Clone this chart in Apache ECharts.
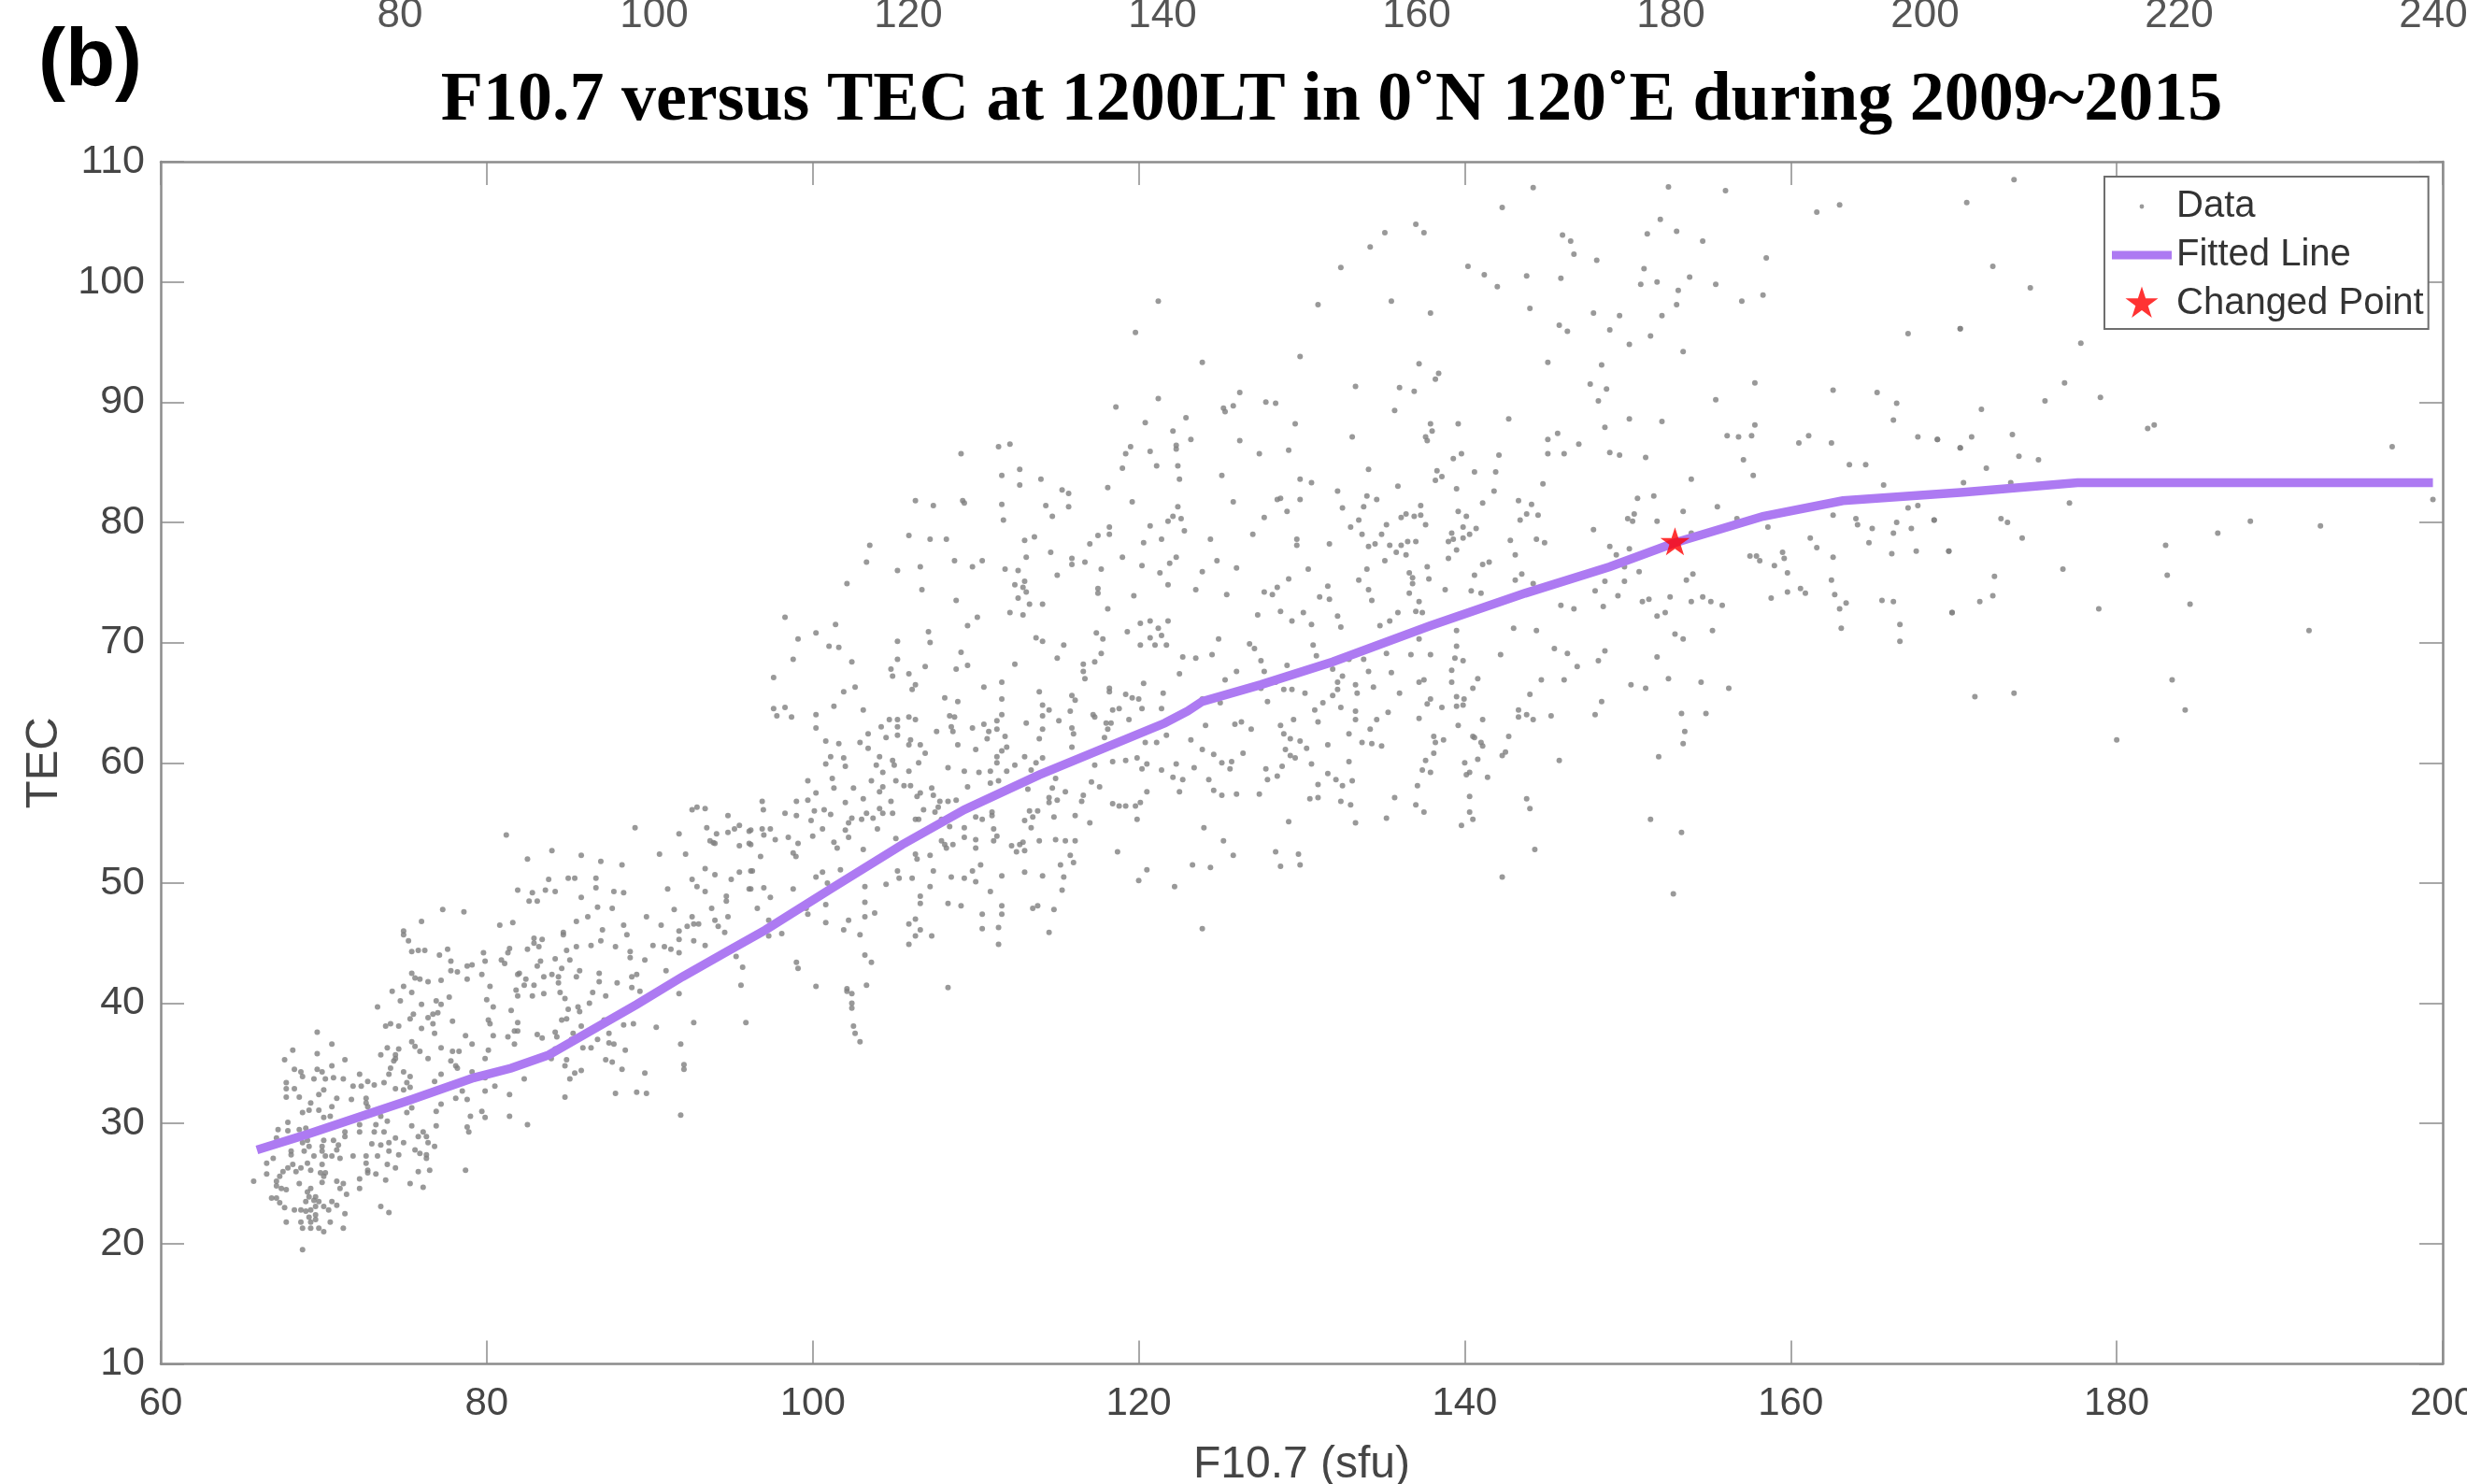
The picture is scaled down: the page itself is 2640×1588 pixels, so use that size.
<!DOCTYPE html>
<html>
<head>
<meta charset="utf-8">
<title>F10.7 versus TEC</title>
<style>
  html, body { margin: 0; padding: 0; background: #fff; overflow: hidden; }
  #chart { width: 2640px; height: 1588px; }
</style>
<script src="https://cdn.jsdelivr.net/npm/echarts@6/dist/echarts.min.js"></script>
</head>
<body>
<div id="chart"></div>
<script>
// [F10.7, TEC]
const lowPoints = [
[84.0,52.7],[82.5,52.0],[85.8,52.3],[87.0,51.8],[88.3,51.5],[90.6,52.4],[92.2,52.4],[93.9,53.35],[95.5,53.1],[96.2,53.2],
[83.8,50.3],[85.0,50.4],[85.4,50.4],[86.7,50.4],[86.7,49.6],[93.4,51.2],[94.0,50.7],[92.6,50.3],[95.0,50.3],[95.5,50.9],[96.2,51.0],
[92.9,49.7],[93.4,49.3],[91.1,49.5],[87.8,49.3],[88.4,49.2],[96.1,49.5],[81.9,49.4],[82.8,49.2],[83.6,49.4],[84.2,49.3],[82.6,48.5],[83.1,48.5],
[85.8,48.8],[94.7,48.9],[94.7,48.5],[86.8,48.0],[87.7,47.9],[93.8,47.9],[91.5,47.8],[89.8,47.2],[92.6,47.2],[77.3,47.8],[78.6,47.6],[76.0,46.8],
[86.2,47.2],[85.5,46.8],[88.4,46.5],[90.7,46.5],[92.3,46.4],[93.0,46.6],[94.0,46.9],[94.8,47.2],[94.2,46.4],[92.7,46.6],[80.8,46.5],[81.6,46.7],
[91.8,46.0],[87.1,46.1],[94.6,45.9],[74.9,46.0],[74.9,45.7],[84.7,45.9],[88.6,45.7],[84.7,45.7],[75.2,45.2],[82.9,45.4],[83.4,45.3],[91.8,45.3],
[92.7,45.2],[87.0,45.2],[93.4,44.8],[90.2,44.8],[85.5,44.7],[86.4,44.8],[82.9,45.0],[83.2,44.7],[87.9,44.7],[75.4,44.3],[75.8,44.4],[76.2,44.4],
[77.6,44.5],[77.1,44.0],[79.8,44.2],[81.4,44.55],[81.3,44.2],[82.5,44.5],[84.9,44.4],[88.8,44.3],[90.9,44.7],[91.3,44.5],[91.8,44.2],[79.9,43.5],
[77.8,43.5],[95.3,43.9],[80.9,43.6],[81.1,43.3],[84.2,43.7],[83.3,43.5],[83.1,43.1],[85.1,43.6],[88.8,43.8],[89.7,43.6],[79.1,43.2],[78.8,43.1],
[77.8,42.7],[78.2,42.6],[95.7,43.0],[86.9,42.5],[82.0,42.5],[84.6,42.9],[91.0,42.7],[85.7,42.7],[83.5,42.2],[84.0,42.4],[84.4,42.2],[85.5,42.2],
[79.7,42.4],[78.8,42.0],[75.4,42.5],[75.6,42.1],[75.9,42.0],[76.4,41.8],[86.9,41.8],[88.9,42.2],[89.2,42.4],[81.9,42.4],[82.4,42.0],[88.0,41.7],
[95.6,41.5],[84.4,41.7],[77.2,41.9],[80.2,41.4],[74.9,41.4],[74.2,41.0],[75.4,40.9],[82.3,41.5],[82.9,41.5],[83.5,40.8],[88.9,41.3],[89.4,41.0],
[74.7,40.2],[73.3,39.7],[81.8,41.1],[81.9,40.6],[82.8,40.6],[84.5,40.9],[84.8,40.4],[86.5,40.9],[87.3,40.6],[91.8,40.8],[86.3,40.0],[85.6,39.7],
[85.7,39.3],[85.0,39.5],[76.9,40.2],[77.2,39.9],[77.7,40.5],[76.0,39.9],[80.0,40.3],[80.4,39.7],[81.5,39.4],[75.5,39.1],[75.3,38.7],[76.7,39.1],
[77.0,39.2],[76.4,38.8],[84.9,38.7],[84.6,38.6],[87.2,38.6],[88.4,38.2],[89.0,38.3],[92.7,38.4],[95.9,38.4],[80.1,38.6],[80.2,38.3],[81.9,38.4],
[74.1,38.3],[73.8,38.1],[74.6,38.1],[77.9,38.5],[76.7,38.3],[81.7,37.7],[81.9,37.7],[90.4,38.0],[85.8,38.1],[69.6,37.6],[76.0,37.9],[78.7,37.3],
[76.8,37.5],[80.4,37.3],[81.3,37.2],[83.1,37.4],[83.4,37.1],[84.2,37.6],[84.3,37.2],[85.3,37.5],[87.5,37.5],[86.8,37.0],[85.2,37.0],[70.5,36.6],
[79.1,36.6],[81.7,36.6],[91.9,36.6],[73.5,35.7],[73.9,36.3],[74.6,36.2],[75.4,36.8],[75.6,36.4],[75.9,36.0],[77.2,36.3],[77.9,36.0],[78.3,36.0],
[80.1,36.1],[84.2,36.2],[85.9,36.3],[86.4,36.3],[87.5,36.7],[87.8,36.6],[88.5,36.1],[68.1,36.1],[69.6,35.8],[74.4,35.7],[74.3,35.2],[74.4,35.4],
[67.6,35.3],[76.4,35.4],[79.9,35.4],[83.96,35.4],[71.3,35.3],[84.9,35.3],[87.3,35.3],[74.1,34.6],[70.5,34.8],[77.8,35.2],[78.1,34.8],[78.2,34.6],
[84.8,34.8],[92.1,34.9],[92.1,34.5],[87.7,35.1],[68.2,34.5],[68.6,34.3],[69.6,34.5],[69.9,34.3],[74.0,34.1],[74.9,34.3],[75.3,33.9],[81.9,34.8],
[88.3,34.5],[85.8,34.4],[85.4,34.2],[89.7,34.2],[72.2,34.1],[68.7,33.9],[69.4,33.7],[70.1,33.7],[70.6,33.8],[71.2,33.7],[79.1,34.3],[77.2,34.1],
[79.9,33.8],[85.1,33.7],[67.7,33.4],[72.7,33.5],[71.8,33.1],[72.3,33.1],[73.1,33.2],[73.7,33.4],[75.1,33.4],[76.8,33.5],[82.3,33.7],[80.5,33.1],
[67.7,32.9],[68.2,32.9],[74.4,32.9],[74.9,32.8],[75.3,33.0],[78.5,32.7],[70.0,32.8],[69.7,32.4],[79.9,32.7],[81.4,32.4],[84.8,32.2],[87.9,32.5],
[89.2,32.6],[89.8,32.5],[67.7,32.2],[68.5,32.2],[70.8,32.1],[71.7,32.0],[72.6,32.1],[72.6,31.7],[78.1,32.1],[78.8,32.0],[77.2,31.6],[69.2,31.7],
[70.5,31.4],[72.7,31.4],[74.9,31.8],[75.4,31.3],[68.7,30.9],[69.1,31.1],[69.7,31.1],[70.4,30.6],[76.9,31.0],[75.1,30.9],[79.0,30.6],[79.7,31.0],
[79.9,30.5],[81.4,30.6],[73.5,30.6],[91.9,30.7],[70.0,30.5],[67.8,30.1],[75.4,29.8],[76.9,29.8],[73.2,29.9],[73.9,30.2],[72.2,29.9],[82.5,29.9],
[78.8,29.7],[67.2,29.5],[67.8,29.4],[68.5,29.5],[68.9,29.6],[71.3,29.3],[72.2,29.3],[73.1,29.3],[73.7,29.3],[76.1,29.3],[78.9,29.3],[67.1,28.8],
[69.0,28.6],[70.0,28.6],[70.6,28.6],[71.3,28.9],[75.8,28.9],[76.3,28.9],[74.4,28.8],[72.95,28.3],[74.0,28.4],[74.9,28.4],[76.4,28.4],[76.8,28.1],
[68.7,28.4],[69.1,28.1],[69.9,28.1],[70.9,28.2],[73.5,28.2],[68.0,27.7],[68.8,27.7],[70.8,27.8],[75.6,27.8],[74.0,27.7],[69.9,27.7],[68.0,27.4],
[74.6,27.4],[75.9,27.5],[76.3,27.4],[69.4,27.3],[70.1,27.3],[70.5,27.3],[71.0,27.1],[71.8,27.3],[72.6,27.3],[73.3,27.3],[76.3,27.1],[66.9,27.1],
[66.5,26.7],[68.1,26.6],[69.0,26.7],[69.9,26.6],[72.6,26.7],[73.9,26.6],[67.8,26.3],[68.6,26.3],[74.4,26.3],[72.7,26.1],[69.2,26.1],[67.5,26.0],
[68.3,26.0],[75.8,26.0],[76.5,26.1],[78.7,26.1],[66.5,25.8],[69.8,25.9],[70.1,25.9],[72.7,25.9],[73.2,25.8],[67.3,25.6],[70.0,25.6],[73.8,25.3],
[72.2,25.4],[65.7,25.2],[67.1,25.2],[68.5,25.0],[69.9,25.1],[70.8,25.2],[71.2,25.0],[75.3,25.0],[67.1,24.8],[67.4,24.6],[69.2,24.6],[71.0,24.6],
[72.2,24.6],[76.1,24.7],[67.7,24.5],[71.4,24.1],[69.0,24.3],[66.8,23.8],[67.1,23.8],[69.1,23.9],[69.5,23.9],[68.9,23.5],[69.4,23.6],[69.7,23.5],
[70.5,23.5],[67.3,23.4],[67.6,23.0],[69.5,23.1],[70.0,23.1],[70.8,23.2],[73.5,23.1],[69.2,22.8],[70.3,22.8],[68.2,22.8],[68.6,22.8],[68.9,22.7],
[71.3,22.5],[74.0,22.6],[69.5,22.4],[69.1,22.2],[68.6,21.8],[67.7,21.8],[69.5,22.0],[69.2,21.8],[70.4,21.8],[68.7,21.3],[69.2,21.3],[69.7,21.3],
[70.0,21.0],[71.2,21.3],[68.7,19.5],
[81.2,54.0],[89.1,54.6],[91.8,54.1],[92.6,56.1],[92.9,56.3],[93.4,56.2],[94.8,55.6],[93.5,54.6],[94.1,54.1],[94.8,54.2],[95.2,54.5],[95.5,54.8],
[96.2,54.4],[93.7,53.5],[94.0,53.3]
];

const midPoints = [
[121.2,98.4],[119.8,95.8],[123.9,93.3],[129.9,93.8],[121.2,90.3],[118.6,89.6],[126.2,90.8],[127.8,90.0],[128.4,89.9],[125.2,89.5],[125.3,89.2],
[125.8,89.7],[122.9,88.7],[120.4,88.3],[129.6,88.2],[122.1,87.6],[123.2,86.9],[126.2,86.8],[119.5,86.3],[122.3,86.4],[122.3,86.1],[120.7,85.9],
[119.2,85.7],[127.4,85.7],[129.2,86.0],[109.1,85.7],[111.4,86.3],[112.1,86.5],[119.0,84.5],[121.1,84.7],[122.4,84.7],[112.7,84.4],[111.6,83.9],
[114.0,83.6],[122.5,83.6],[125.1,83.9],[129.9,83.6],[112.7,83.1],[118.1,82.9],[115.3,82.7],[115.7,82.4],[106.3,81.8],[107.4,81.4],[109.2,81.8],
[109.3,81.6],[111.6,81.5],[114.3,81.4],[115.7,81.3],[119.6,81.7],[125.8,81.7],[122.4,81.3],[128.5,81.9],[128.7,82.0],[129.9,81.9],[129.1,80.9],
[127.7,80.4],[111.7,80.2],[114.7,80.5],[118.2,79.6],[122.1,80.5],[122.6,80.3],[121.8,80.1],[120.7,79.7],[122.8,79.3],[117.5,78.9],[118.2,79.0],
[127.0,79.0],[105.9,78.9],[107.2,78.6],[108.2,78.6],[113.6,78.8],[113.0,78.5],[121.4,78.6],[124.4,78.6],[129.7,78.6],
[129.7,78.1],[103.5,78.1],[120.3,78.3],[117.0,78.2],[114.6,77.5],[122.3,77.1],[103.3,76.7],[121.9,76.6],[115.9,77.0],[115.9,76.5],[116.7,76.7],
[113.1,77.1],[119.0,77.1],[108.7,76.8],[110.4,76.8],[109.8,76.3],[120.2,76.4],[121.3,75.8],[105.2,76.0],[106.6,76.3],[111.8,76.1],[112.6,76.0],
[117.7,76.1],[123.9,75.9],[124.8,76.8],[126.0,76.2],[115.0,75.6],[121.8,74.8],[113.0,75.1],[112.4,74.8],[112.9,74.6],[113.1,74.2],[117.5,74.5],
[117.5,74.1],[102.1,74.9],[106.7,74.4],[123.5,74.4],[125.4,74.0],[127.7,74.2],[128.2,74.0],[128.5,74.6],[129.2,75.3],[119.7,73.9],[112.6,73.7],
[108.8,73.5],[114.1,73.2],[113.3,73.2],[118.1,72.8],[112.1,72.5],[112.9,72.3],[128.7,72.6],[130.1,72.5],[127.3,72.3],[129.4,71.8],[98.3,72.1],
[110.1,72.1],[120.7,71.8],[121.8,71.8],[120.1,71.6],[101.4,71.5],[109.5,71.4],[121.2,71.2],[100.2,70.8],[107.1,70.9],[117.4,70.8],[119.3,70.9],
[121.4,70.6],[99.1,70.3],[113.7,70.4],[114.1,70.1],[117.8,70.3],[120.7,70.4],[124.9,70.3],[105.2,70.1],[107.2,70.0],[101.0,69.7],[101.6,69.6],
[120.1,69.8],[121.0,69.8],[121.7,69.8],[126.8,69.9],[115.4,69.8],[109.1,69.2],[117.7,69.1],[127.1,69.5],[124.5,69.0],[98.8,68.6],[105.2,68.6],
[115.0,68.7],[122.7,68.8],[123.5,68.7],[127.5,68.5],[102.4,68.4],[109.5,68.1],[112.4,68.2],[116.6,68.2],[117.3,68.4],[106.9,68.0],[108.8,67.8],
[104.8,67.8],[126.0,67.6],[116.6,67.6],[127.7,67.6],[129.1,68.1],[105.9,67.4],[122.5,67.4],[97.6,67.1],[104.9,67.2],[116.7,67.0],[125.3,66.9],
[128.4,66.7],[106.3,66.5],[120.3,66.6],[111.6,66.7],[110.5,66.3],[102.6,66.3],[127.5,66.2],[106.1,66.1],[101.9,65.9],[118.2,66.2],[118.2,65.9],
[113.9,65.9],[121.5,65.8],[128.9,66.1],[129.4,66.1],[130.2,65.8],[115.9,65.6],[119.2,65.7],[119.6,65.4],[120.0,65.3],[116.1,65.2],[108.1,65.4],
[111.6,65.3],[108.9,65.1],[123.9,65.3],[125.0,65.0],[127.9,65.1],[131.9,65.6],[133.4,65.8],[101.3,64.7],[97.6,64.5],[98.3,64.6],[114.1,64.8],
[114.5,64.4],[103.1,64.4],[100.2,64.0],[121.4,64.5],[120.2,64.5],[118.4,64.4],[118.8,64.5],[115.8,64.3],[130.8,64.4],[131.3,65.0],[132.4,64.6],
[133.3,64.3],[97.8,63.9],[98.7,63.8],[111.6,64.0],[117.2,64.0],[117.3,63.8],[114.1,63.9],[108.4,63.9],[108.7,63.8],[104.7,63.6],[105.2,63.6],
[105.9,63.8],[106.3,63.6],[111.3,63.5],[115.1,63.5],[119.4,63.6],[129.5,63.6],[133.3,63.6],[131.0,63.4],[134.6,63.6],[100.2,62.9],[113.1,63.3],
[118.0,63.3],[118.3,63.3],[110.5,63.2],[126.3,63.4],[125.9,63.2],[104.2,63.0],[105.2,63.0],[108.5,63.0],[109.8,62.9],[114.1,62.8],[111.3,62.8],
[115.9,62.9],[124.1,63.1],[126.9,62.8],[128.7,63.1],[134.2,62.8],[118.1,62.8],[110.8,62.6],[108.6,62.6],[107.6,62.6],[103.4,62.4],[104.5,62.1],
[105.2,62.3],[116.0,62.4],[117.9,62.1],[121.7,62.3],[128.9,62.4],[129.3,62.0],[132.9,62.4],[111.8,62.2],[110.7,62.0],[113.9,62.0],[106.0,61.9],
[123.2,61.9],[100.8,61.8],[101.6,61.6],[102.9,61.7],[106.6,61.5],[108.9,61.5],[129.9,61.8],[133.7,61.7],[134.3,61.6],[134.9,61.4],[105.9,61.5],
[103.4,61.2],[110.0,61.1],[111.9,61.3],[115.9,61.3],[123.9,61.1],[120.4,61.7],[121.1,61.7],[129.0,61.1],[130.3,61.2],[131.6,61.5],[106.9,60.8],
[111.6,61.0],[124.6,60.7],[126.4,60.8],[129.3,60.6],[101.1,60.5],[101.9,60.4],[104.1,60.5],[111.3,60.5],[113.0,60.5],[114.1,60.4],[104.9,60.2],
[129.6,60.4],[106.5,60.0],[111.3,60.0],[100.8,59.9],[103.9,59.8],[105.0,59.8],[102.0,59.7],[112.4,59.8],[113.7,60.0],[118.4,60.1],[119.2,60.2],
[119.9,60.4],[125.1,60.0],[125.7,60.1],[132.9,60.1],[108.3,59.6],[117.3,59.8],[120.5,59.9],[120.2,59.5],[122.3,59.9],[123.4,59.6],[125.6,59.5],
[127.8,59.5],[128.8,59.7],[130.6,59.9],[105.9,59.3],[109.3,59.3],[110.2,59.2],[110.9,59.3],[111.9,59.3],[113.4,59.4],[104.3,59.2],[121.4,59.4],
[131.6,59.1],[128.5,58.9],[127.9,58.6],[114.9,58.7],[122.1,58.8],[122.7,58.6],[124.3,58.6],[132.1,58.6],[133.1,58.5],[99.7,58.5],[101.2,58.7],
[103.6,58.5],[105.1,58.5],[105.6,58.1],[106.0,58.1],[111.4,58.5],[110.9,58.3],[117.1,58.4],[101.3,57.9],[102.5,57.9],[104.3,58.0],[109.5,58.0],
[113.2,57.8],[117.6,58.0],[114.7,57.9],[115.5,57.6],[131.0,58.2],[132.5,58.1],[100.2,57.5],[104.1,57.6],[107.3,57.9],[107.4,57.3],[106.6,57.5],
[106.4,57.2],[120.5,57.6],[122.5,57.6],[124.6,57.7],[125.1,57.3],[126.0,57.4],[127.4,57.4],[103.1,57.0],[114.5,57.1],[99.7,56.9],[116.6,57.3],
[130.5,57.0],[131.0,57.1],[132.4,56.8],[96.9,56.8],[99.0,56.8],[102.0,56.7],[104.8,56.8],[107.8,56.8],[108.3,56.8],[108.8,56.9],[115.0,56.9],
[114.5,56.7],[116.5,56.8],[118.4,56.6],[118.8,56.4],[119.2,56.4],[120.1,56.7],[119.8,56.4],[133.0,56.5],[96.97,56.1],[104.1,56.2],[100.1,56.0],
[100.7,56.1],[107.7,56.3],[107.5,55.9],[109.5,56.3],[111.0,55.9],[113.3,56.0],[113.8,56.0],[98.3,55.8],[99.0,55.6],[101.1,55.7],[103.3,55.8],
[104.3,55.8],[104.9,55.8],[106.8,56.1],[113.5,55.5],[114.8,55.5],[116.1,55.6],[110.0,55.5],[102.4,55.4],[103.0,55.3],[103.7,55.4],[102.2,55.0],
[99.9,55.2],[106.3,55.3],[106.5,55.3],[107.9,55.3],[110.4,55.3],[113.0,55.2],[111.0,55.6],[119.9,55.3],[129.2,55.1],[117.0,55.0],[133.3,55.0],
[96.9,54.5],[96.1,54.3],[97.4,54.5],[100.6,54.5],[102.0,54.4],[103.97,54.5],[108.4,54.7],[109.3,54.6],[111.1,54.5],[113.4,54.6],[124.0,54.6],
[97.0,54.0],[100.0,53.9],[98.5,53.8],[102.2,53.8],[105.1,53.7],[109.3,53.8],[110.0,53.6],[111.3,53.9],[97.7,53.6],[113.9,53.5],[114.9,53.6],
[115.5,53.5],[116.1,53.5],[96.1,53.3],[99.1,53.3],[101.3,53.4],[107.9,53.5],[108.1,53.2],[111.1,53.5],[112.9,53.4],[125.2,53.5],[108.6,53.2],
[112.2,53.1],[112.7,53.2],[101.5,52.9],[103.1,52.8],[110.0,52.9],[108.2,52.9],[112.5,52.6],[113.0,52.7],[118.7,52.6],[128.4,52.6],[98.8,52.5],
[98.97,52.2],[96.8,52.2],[106.3,52.4],[106.4,52.0],[107.2,52.3],[115.8,52.3],[125.8,52.3],[129.8,52.4],[116.0,51.7],[110.3,51.5],[115.2,51.5],
[128.7,51.4],[129.9,51.5],[123.3,51.5],[124.4,51.3],[120.5,51.1],[100.6,50.9],[100.2,50.5],[101.7,51.1],[96.3,51.0],[105.2,51.0],[107.4,51.0],
[109.8,51.0],[113.0,50.9],[114.1,50.6],[115.4,50.5],[111.6,50.6],[105.3,50.4],[106.1,50.4],[108.5,50.5],[109.3,50.4],[110.0,50.1],[100.9,50.0],
[120.0,50.2],[103.2,49.7],[104.5,49.9],[107.2,49.7],[122.2,49.7],[96.2,49.5],[97.0,49.6],[98.8,49.5],[115.3,49.4],[110.9,49.3],[97.4,48.8],
[106.6,48.9],[103.2,48.4],[100.8,48.2],[106.6,48.3],[108.3,48.3],[111.6,48.1],[109.1,48.1],[96.6,47.9],[99.6,47.9],[113.8,48.1],[113.5,47.9],
[114.8,47.8],[103.8,47.5],[99.7,47.4],[110.4,47.4],[111.6,47.4],[102.2,46.9],[103.2,47.2],[106.3,47.0],[105.9,46.6],[97.3,46.9],[100.8,46.7],
[101.9,46.1],[111.4,46.3],[110.4,46.2],[123.9,46.2],[106.6,46.1],[106.3,45.6],[107.3,45.6],[102.9,45.7],[97.3,45.6],[98.1,45.8],[105.9,44.9],
[111.4,44.9],[114.5,45.9],[103.2,44.0],[103.6,43.4],[99.0,43.4],[99.1,42.9],[103.3,41.5],[100.2,41.4],[102.1,41.2],[108.3,41.3],
[102.1,41.0],[102.4,40.8],[102.4,40.0],[102.4,39.6],[102.5,38.1],[102.6,37.5],[102.9,36.8]
];

const highPoints = [
[144.2,107.85],[152.5,107.9],[156.0,107.6],[142.3,106.2],[163.0,106.4],[161.6,105.8],[152.0,105.2],[137.0,104.8],[135.1,104.1],[137.5,104.1],
[146.0,103.9],[146.5,103.4],[151.2,104.0],[153.0,104.2],[154.6,103.4],[134.2,102.9],[146.7,102.3],[148.1,101.8],[158.5,102.0],[132.4,101.2],
[140.2,101.3],[151.0,101.1],[141.2,100.6],[143.8,100.5],[145.9,100.3],[151.8,100.0],[150.8,99.8],[153.8,100.4],[155.4,99.8],[142.0,99.6],[153.1,99.3],
[135.5,98.4],[157.0,98.4],[158.3,98.9],[153.0,98.1],[131.0,98.1],[137.9,97.4],[144.0,97.8],[147.9,97.4],[149.5,97.2],[152.1,97.2],[145.8,96.4],
[146.3,95.9],[148.9,96.0],[151.4,95.5],[150.1,94.8],[153.4,94.2],[167.2,95.7],[170.4,96.1],[137.2,93.2],[145.1,93.3],[148.4,93.1],[138.4,92.4],
[138.2,91.9],[133.3,91.3],[136.0,91.2],[136.9,90.9],[147.7,91.5],[148.7,91.1],[148.2,90.1],[155.4,90.2],[157.8,91.6],[162.6,91.0],[165.3,90.8],
[166.5,89.9],[166.3,88.5],[135.7,89.3],[142.7,88.6],[150.1,88.6],[152.1,88.4],[137.9,88.2],[139.6,88.2],[157.8,88.1],[138.0,87.6],[148.6,87.9],
[137.6,87.1],[133.1,87.1],[137.7,86.8],[145.7,87.4],[145.1,86.9],[147.0,86.5],[156.1,87.2],[156.8,87.1],[157.6,87.2],[161.1,87.2],[160.5,86.6],
[162.5,86.6],[167.8,87.1],[169.0,86.9],[170.4,86.2],[139.8,85.7],[139.3,85.3],[142.1,85.6],[145.1,85.7],[146.1,85.7],[148.9,85.8],[149.5,85.6],
[151.1,85.4],[157.1,85.2],[163.6,84.8],[164.6,84.8],[134.1,84.4],[140.6,84.2],[141.9,84.2],[138.3,84.3],[138.6,83.8],[138.2,83.5],[157.7,83.9],
[153.9,83.6],[130.6,83.3],[135.9,83.0],[144.8,83.2],[165.7,83.1],[139.5,82.8],[132.2,82.6],[141.8,82.6],[134.0,82.2],[134.6,81.9],[151.6,82.2],
[150.6,82.0],[141.1,81.6],[143.3,81.8],[144.1,81.5],[137.3,81.4],[133.8,81.3],[132.5,81.2],[155.5,81.3],[153.4,80.9],[167.2,81.2],[139.6,80.9],
[136.4,80.7],[136.1,80.4],[136.9,80.5],[137.3,80.6],[140.1,80.5],[143.8,80.7],[144.5,80.6],[143.4,80.2],[150.4,80.7],[150.0,80.3],[150.3,80.1],
[151.8,80.1],[133.5,80.2],[156.7,80.3],[162.6,80.6],[164.0,80.3],[164.1,79.8],[166.5,80.0],[168.8,80.2],[135.2,79.8],[137.6,79.8],[133.0,79.6],
[139.9,79.6],[158.6,79.6],[165.0,79.5],[167.4,79.5],[139.2,79.1],[140.3,79.0],[140.7,79.5],[147.9,79.4],[133.7,79.0],[134.9,79.0],[166.3,79.1],
[153.9,79.1],[139.9,78.7],[139.3,78.6],[139.0,78.4],[142.8,78.5],[144.4,78.6],[144.9,78.3],[161.2,78.7],[131.7,78.2],[135.4,78.1],[136.1,78.1],
[136.5,78.4],[137.0,78.4],[134.5,78.2],[134.1,78.0],[164.8,78.3],[148.9,78.0],[150.1,77.8],[161.6,77.9],[139.5,77.7],[135.8,77.5],[166.2,77.4],
[167.7,77.6],[169.7,77.6],[149.3,77.3],[136.4,77.3],[143.1,77.3],[157.5,77.2],[157.9,77.2],[158.1,76.8],[159.5,77.5],[159.6,77.0],[162.6,77.1],
[139.0,77.0],[135.1,76.8],[141.5,76.7],[141.1,76.5],[159.0,76.4],[137.7,76.3],[134.0,76.1],[130.4,76.1],[149.8,76.3],[150.7,75.9],[154.0,75.7],
[136.6,75.8],[143.5,75.7],[159.8,75.8],[140.6,75.6],[133.5,75.2],[136.8,75.4],[136.8,74.9],[137.8,75.3],[143.1,75.2],[144.2,74.9],[148.6,75.1],
[149.8,75.1],[153.6,75.2],[162.5,75.2],[131.6,74.7],[134.1,74.4],[138.8,74.4],[140.4,74.3],[141.0,74.1],[148.0,74.3],[160.6,74.5],[159.8,74.2],
[160.9,74.1],[136.6,74.1],[162.7,74.0],[131.1,73.8],[131.7,73.6],[134.3,73.5],[137.2,73.4],[149.4,73.9],[152.6,73.8],[154.6,73.8],[153.9,73.4],
[155.1,73.4],[155.8,73.1],[158.8,73.7],[151.3,73.6],[150.9,73.4],[163.4,73.3],[165.6,73.5],[166.3,73.4],[145.9,73.1],[146.7,72.8],[148.5,73.0],
[163.0,72.8],[135.9,72.5],[137.0,72.6],[137.4,72.5],[151.8,72.2],[152.3,72.5],[132.2,72.2],[169.9,72.5],[135.4,71.8],[134.8,71.4],[166.7,71.5],
[130.6,71.5],[132.4,71.3],[143.0,71.2],[144.4,71.0],[139.5,71.0],[155.2,71.0],[163.1,71.2],[152.9,70.7],[153.4,70.3],[137.2,70.3],[166.7,70.1],
[139.5,69.7],[130.7,69.8],[145.5,69.5],[148.6,69.3],[135.2,69.1],[136.7,69.0],[137.9,69.0],[142.2,69.0],[146.3,69.1],[151.8,68.8],[139.4,68.7],
[139.9,68.5],[148.2,68.5],[130.9,68.9],[132.9,68.6],[133.8,68.6],[146.9,68.0],[139.2,67.7],[131.9,67.8],[134.1,67.6],[135.5,67.5],[152.5,67.0],
[140.8,67.0],[144.7,66.9],[146.1,66.9],[132.5,67.2],[137.5,66.9],[137.2,66.7],[139.2,66.7],[132.2,66.7],[154.5,66.7],[133.3,66.5],[134.4,66.3],
[150.2,66.5],[140.5,66.2],[151.1,66.2],[156.2,66.2],[132.2,66.1],
[136.0,65.8],[144.0,65.7],[139.5,65.5],[139.96,65.3],[137.9,65.3],[137.7,64.9],[138.6,64.6],[139.5,64.7],[139.9,64.8],[148.4,65.1],[135.3,64.2],
[143.3,64.4],[143.8,64.0],[143.3,63.8],[144.2,63.6],[145.3,63.9],[148.0,64.0],[153.3,64.1],[154.8,64.1],[137.2,63.7],[141.1,63.6],[139.6,63.1],
[153.5,62.6],[138.1,62.2],[140.5,62.2],[140.6,62.1],[142.7,62.2],[138.7,61.9],[138.2,61.7],[141.0,61.7],[141.1,61.4],[153.4,61.6],[138.1,60.8],
[142.5,60.9],[142.3,60.6],[151.9,60.5],[137.6,60.2],[140.8,60.3],[140.0,60.0],[145.8,60.2],[137.4,59.4],[137.9,59.2],[140.3,59.2],[140.1,59.0],
[141.4,58.8],[137.1,58.1],[135.7,57.1],[140.3,57.2],[143.8,57.0],[144.0,56.2],[137.0,56.5],[137.5,55.9],[140.3,55.9],[140.5,55.3],[135.2,55.4],
[139.8,54.8],[151.4,55.3],[153.3,54.2],[144.3,52.8],[142.3,50.5],[152.8,49.1],
[170.4,96.1],[177.8,94.9],[176.8,91.6],[179.0,90.4],[175.6,90.1],[171.7,89.4],[181.9,87.8],[182.3,88.1],[196.9,86.3],[169.0,86.9],[171.1,87.1],
[170.4,86.2],[173.6,87.3],[174.0,85.5],[175.2,85.2],[172.0,84.5],[170.6,83.3],[173.5,83.3],[177.1,81.6],[167.8,81.4],[168.8,80.2],[172.9,80.3],
[173.3,80.0],[174.2,78.7],[169.7,77.6],[183.0,78.1],[186.2,79.1],[188.2,80.1],[192.5,79.7],[199.4,81.9],[176.7,76.1],[183.1,75.6],[172.5,75.5],
[172.4,73.9],[171.6,73.4],[169.9,72.5],[178.9,72.8],[184.5,73.2],[191.8,71.0],[183.4,66.9],[184.2,64.4],[173.7,65.8],[171.3,65.5],[180.0,61.9],
[173.7,108.5],[170.8,106.6],[172.4,101.3],[174.7,99.5]
];

// fitted line knots
const fitF107 = [65.9,69.0,72.3,75.4,79.2,81.5,83.8,85.6,89.2,92.0,94.6,97.1,101.1,105.5,109.3,113.9,121.6,123.0,123.9,127.5,131.9,137.9,143.7,148.9,152.9,158.3,163.2,170.6,177.6,199.4];
const fitTEC  = [27.8,29.1,30.6,32.0,33.8,34.6,35.7,37.1,39.9,42.2,44.2,46.1,49.5,53.2,56.1,59.0,63.3,64.3,65.1,66.5,68.4,71.4,74.1,76.3,78.3,80.5,81.8,82.5,83.3,83.3];

const changedPoint = [152.9, 78.3];

// neighbouring panel's axis, cut off at the top of the picture
const topPanelTicks = [80, 100, 120, 140, 160, 180, 200, 220, 240];

const axisGrey = '#8c8c8c';
const labelGrey = '#454545';
const sansFont = '"Liberation Sans", Arial, sans-serif';

// small shapes padded by corner stubs so the legend keeps their size
const starPath = 'path://M0 0h.01M100 100h.01M50 4L60.3 35.8L93.7 35.8L66.7 55.4L77 87.2L50 67.6L23 87.2L33.3 55.4L6.3 35.8L39.7 35.8Z';
const dotPath = 'path://M0 0h.01M100 100h.01M44 50a6 6 0 1 0 12 0a6 6 0 1 0 -12 0Z';
const barPath = 'path://M0 0L100 0L100 14L0 14Z';

const chart = echarts.init(document.getElementById('chart'), null, { renderer: 'canvas' });

const frameTick = { show: true, inside: true, length: 25, lineStyle: { color: axisGrey, width: 1.5 } };
const frameLine = { show: true, onZero: false, lineStyle: { color: axisGrey, width: 2.5 } };

chart.setOption({
  animation: false,
  backgroundColor: '#fff',
  title: [{
    text: 'F10.7 versus TEC at 1200LT in 0˚N 120˚E during 2009~2015',
    left: 1420,
    top: 67,
    textAlign: 'center',
    textStyle: { fontFamily: '"Liberation Serif", "Times New Roman", serif', fontWeight: 'bold', fontSize: 74, color: '#000' }
  }, {
    text: '(b)',
    left: 36,
    top: 19,
    textStyle: { fontFamily: sansFont, fontWeight: 'bold', fontSize: 87, color: '#000' }
  }],
  legend: {
    orient: 'vertical',
    left: 2252,
    top: 189,
    padding: [12, 5, 7, 8],
    itemWidth: 64,
    itemHeight: 40,
    itemGap: 12,
    backgroundColor: '#fff',
    borderColor: '#6e6e6e',
    borderWidth: 2,
    textStyle: { fontFamily: sansFont, fontSize: 40, color: '#333', padding: [0, 0, 0, 0] },
    data: [
      { name: 'Data', icon: dotPath },
      { name: 'Fitted Line', icon: barPath },
      { name: 'Changed Point', icon: starPath }
    ]
  },
  grid: [
    { left: 172, top: 173, width: 2442, height: 1286.5, outerBoundsMode: 'none' },
    { left: 156, top: -50, width: 2448, height: 30, outerBoundsMode: 'none' }
  ],
  xAxis: [{
    type: 'value',
    gridIndex: 0,
    min: 60,
    max: 200,
    interval: 20,
    name: 'F10.7 (sfu)',
    nameLocation: 'middle',
    nameGap: 84,
    nameTextStyle: { fontFamily: sansFont, fontSize: 48, color: labelGrey },
    splitLine: { show: false },
    axisLine: frameLine,
    axisTick: frameTick,
    axisLabel: { fontFamily: sansFont, fontSize: 42, color: labelGrey, margin: 22 }
  }, {
    type: 'value',
    gridIndex: 0,
    position: 'top',
    min: 60,
    max: 200,
    interval: 20,
    splitLine: { show: false },
    axisLine: frameLine,
    axisTick: frameTick,
    axisLabel: { show: false }
  }, {
    type: 'value',
    gridIndex: 1,
    min: 60,
    max: 240,
    interval: 20,
    splitLine: { show: false },
    axisLine: { show: false },
    axisTick: { show: false },
    axisLabel: {
      fontFamily: sansFont, fontSize: 44, color: '#555', margin: 15,
      customValues: topPanelTicks
    }
  }],
  yAxis: [{
    type: 'value',
    gridIndex: 0,
    min: 10,
    max: 110,
    interval: 10,
    name: 'TEC',
    nameLocation: 'middle',
    nameGap: 98,
    nameTextStyle: { fontFamily: sansFont, fontSize: 49, color: labelGrey },
    splitLine: { show: false },
    axisLine: frameLine,
    axisTick: frameTick,
    axisLabel: { fontFamily: sansFont, fontSize: 43, color: labelGrey, margin: 17, padding: [7, 0, 0, 0] }
  }, {
    type: 'value',
    gridIndex: 0,
    position: 'right',
    min: 10,
    max: 110,
    interval: 10,
    splitLine: { show: false },
    axisLine: frameLine,
    axisTick: frameTick,
    axisLabel: { show: false }
  }, {
    type: 'value',
    gridIndex: 1,
    show: false
  }],
  series: [{
    name: 'Data',
    type: 'scatter',
    xAxisIndex: 0,
    yAxisIndex: 0,
    symbol: 'circle',
    symbolSize: 6,
    itemStyle: { color: '#7f7f7f' },
    silent: true,
    z: 2,
    data: lowPoints.concat(midPoints, highPoints)
  }, {
    name: 'Fitted Line',
    type: 'line',
    xAxisIndex: 0,
    yAxisIndex: 0,
    symbol: 'none',
    lineStyle: { color: '#ad7af2', width: 9.5, join: 'miter' },
    itemStyle: { color: '#ad7af2' },
    silent: true,
    z: 3,
    data: fitF107.map((x, i) => [x, fitTEC[i]])
  }, {
    name: 'Changed Point',
    type: 'scatter',
    xAxisIndex: 0,
    yAxisIndex: 0,
    symbol: starPath,
    symbolSize: 36,
    itemStyle: { color: '#ff0000' },
    silent: true,
    z: 4,
    data: [changedPoint]
  }]
});
</script>
</body>
</html>
